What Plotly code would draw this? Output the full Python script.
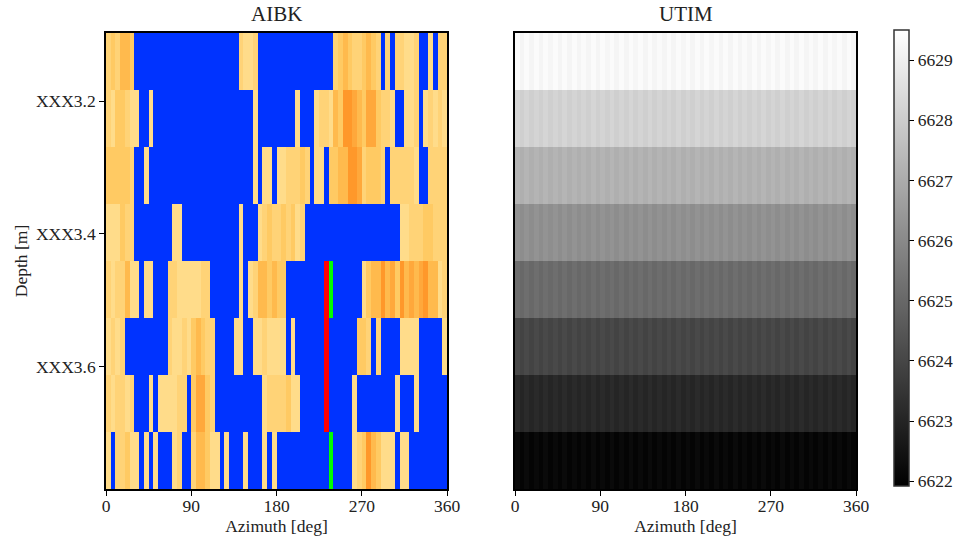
import plotly.graph_objects as go

azimuth = [2.5 + 5 * i for i in range(72)]
depth = [3.140, 3.226, 3.312, 3.398, 3.484, 3.570, 3.656, 3.742]
depth_ticks = [3.2, 3.4, 3.6]
depth_labels = ["XXX3.2", "XXX3.4", "XXX3.6"]
az_ticks = [0, 90, 180, 270, 360]

# AIBK class per cell: 0 blue, 1-6 amber ramp (light to dark), 7 red, 8 green
aibk_1 = [2,3,2,4,4,3,0,0,0,0,0,0, 0,0,0,0,0,0,0,0,0,0,0,0,
          0,0,0,0,2,1,1,2,0,0,0,0, 0,0,0,0,0,0,0,0,0,0,0,0,
          2,3,4,3,2,2,3,4,3,2,0,2, 0,2,2,1,1,2,0,0,1,0,2,2]
aibk_2 = [2,1,3,3,2,1,1,0,0,1,0,0, 0,0,0,0,0,0,0,0,0,0,0,0,
          0,0,0,0,0,0,0,1,0,0,0,0, 0,0,0,0,1,0,0,0,1,2,2,1,
          4,3,6,6,5,4,3,5,5,3,2,2, 1,0,0,1,1,2,0,1,2,1,2,1]
aibk_3 = [3,3,3,3,3,2,0,0,1,0,0,0, 0,0,0,0,0,0,0,0,0,0,0,0,
          0,0,0,0,0,0,0,1,0,1,1,0, 1,1,2,2,2,3,2,0,1,1,0,3,
          3,4,4,6,6,5,2,3,3,3,2,0, 2,2,2,2,2,1,0,0,2,2,2,2]
aibk_4 = [1,1,1,3,2,2,0,0,0,0,0,0, 0,0,1,1,0,0,0,0,0,0,0,0,
          0,0,0,0,1,0,0,0,1,2,3,2, 2,3,2,3,1,2,0,0,0,0,0,0,
          0,0,0,0,0,0,0,0,0,0,0,0, 0,0,1,1,2,2,2,3,3,2,2,2]
aibk_5 = [2,1,2,2,4,1,1,0,1,1,0,0, 0,2,2,1,1,1,1,1,2,2,0,0,
          0,0,0,0,1,0,1,2,4,4,3,4, 3,3,0,0,0,0,0,0,0,0,7,8,
          0,0,0,0,0,0,1,3,4,4,6,4, 5,3,6,4,5,4,5,6,4,4,1,2]
aibk_6 = [1,2,1,2,0,0,0,0,0,0,0,0, 0,2,1,1,2,1,3,4,3,2,2,0,
          0,0,0,1,1,0,0,1,1,2,1,1, 1,1,0,1,0,0,0,0,0,0,7,0,
          0,0,0,0,0,3,3,2,0,2,0,0, 0,0,1,1,1,1,0,0,0,0,0,1]
aibk_7 = [2,1,2,2,1,2,0,0,0,1,0,1, 1,1,1,2,2,0,3,5,5,3,2,0,
          0,0,0,0,0,0,0,0,0,1,2,2, 2,2,3,1,1,0,0,0,0,0,7,0,
          0,0,0,0,1,0,0,0,0,0,0,0, 0,1,0,0,0,1,0,0,0,0,0,0]
aibk_8 = [1,0,2,2,3,1,1,0,1,0,1,0, 0,0,1,2,0,0,2,4,4,3,1,1,
          0,1,0,0,0,1,0,0,0,1,0,1, 0,0,0,0,0,0,0,0,0,0,0,8,
          0,0,0,0,1,2,3,6,4,3,1,1, 1,0,1,1,0,0,0,0,0,0,0,0]

# UTIM: depth-row level plus small azimuthal ripple read from the stripes
utim_rows = [6629.29, 6628.15, 6627.20, 6626.20, 6625.10, 6624.00, 6623.10, 6622.12]
utim_ripple = [.09,-.08,.09,-.09,.08,-.08,.09,-.07,.08,-.09,.09,-.08,
               .08,-.09,.07,-.08,.09,-.09,.08,-.07,.09,-.08,.08,-.09,
               .09,-.07,.08,-.09,.09,-.08,.07,-.09,.08,-.08,.09,-.07,
               .08,-.09,.09,-.08,.08,-.07,.09,-.09,.08,-.08,.09,-.08,
               .07,-.09,.08,-.08,.09,-.07,.08,-.09,.09,-.08,.08,-.09,
               .09,-.08,.07,-.09,.08,-.08,.09,-.07,.08,-.09,.08,-.08]

class_colors = ["#0033FF", "#FFDC8A", "#FFD377", "#FFCA63", "#FFBA4D", "#FFA83B", "#FF982A",
                "#FF0000", "#00FF00"]

aibk = [aibk_1, aibk_2, aibk_3, aibk_4, aibk_5, aibk_6, aibk_7, aibk_8]
utim = [[r + d for d in utim_ripple] for r in utim_rows]

n = len(class_colors)
scale = []
for i, c in enumerate(class_colors):
    scale += [[i / n, c], [(i + 1) / n, c]]

W, H = 960, 542
FONT = "Liberation Serif"

fig = go.Figure()
fig.add_trace(go.Heatmap(x=azimuth, y=depth, z=aibk, colorscale=scale, zmin=-0.5, zmax=n - 0.5,
                         showscale=False, xaxis="x", yaxis="y"))
fig.add_trace(go.Heatmap(x=azimuth, y=depth, z=utim, colorscale=[[0, "#000000"], [1, "#FFFFFF"]],
                         zmin=6621.92, zmax=6629.5, xaxis="x2", yaxis="y2",
                         colorbar=dict(x=894 / W, xanchor="left", xpad=0, y=1 - 486 / H, yanchor="bottom",
                                       ypad=0, len=456 / H, lenmode="fraction",
                                       thickness=15, thicknessmode="pixels",
                                       outlinewidth=1.5, outlinecolor="#333333",
                                       tickvals=[6622, 6623, 6624, 6625, 6626, 6627, 6628, 6629],
                                       ticks="outside", ticklen=5, tickwidth=1, tickcolor="black",
                                       tickfont=dict(size=17.5, family=FONT, color="#222222"))))

axis = dict(showgrid=False, zeroline=False, showline=True, linecolor="black", linewidth=1.5, mirror=True,
            ticks="outside", ticklen=5, tickwidth=1, tickcolor="black",
            tickfont=dict(size=17.5, family=FONT, color="#222222"))
xstyle = dict(axis, range=[0, 360], tickvals=az_ticks, ticktext=[str(t) for t in az_ticks],
              ticklabelstandoff=-5,
              title=dict(text="Azimuth [deg]", standoff=4, font=dict(size=17.5, family=FONT, color="#222222")))
fig.update_layout(
    width=W, height=H, autosize=False, paper_bgcolor="white", plot_bgcolor="white",
    margin=dict(l=0, r=0, t=0, b=0, autoexpand=False),
    xaxis=dict(xstyle, domain=[106 / W, 447 / W], anchor="y"),
    xaxis2=dict(xstyle, domain=[515 / W, 856 / W], anchor="y2"),
    yaxis=dict(axis, domain=[1 - 489 / H, 1 - 33 / H], range=[3.785, 3.097], anchor="x",
               tickvals=depth_ticks, ticktext=depth_labels,
               title=dict(text="Depth [m]", standoff=4, font=dict(size=17.5, family=FONT, color="#222222"))),
    yaxis2=dict(axis, domain=[1 - 489 / H, 1 - 33 / H], range=[3.785, 3.097], anchor="x2",
                showticklabels=False, ticks=""),
    annotations=[
        dict(text="AIBK", x=276.5 / W, y=1 - 28 / H, xref="paper", yref="paper", xanchor="center", yanchor="bottom",
             showarrow=False, font=dict(size=21, family=FONT, color="#222222")),
        dict(text="UTIM", x=685.5 / W, y=1 - 28 / H, xref="paper", yref="paper", xanchor="center", yanchor="bottom",
             showarrow=False, font=dict(size=21, family=FONT, color="#222222")),
    ],
)
fig.write_html("out.html", config={"displayModeBar": False}, post_script="document.body.style.margin='0';")
